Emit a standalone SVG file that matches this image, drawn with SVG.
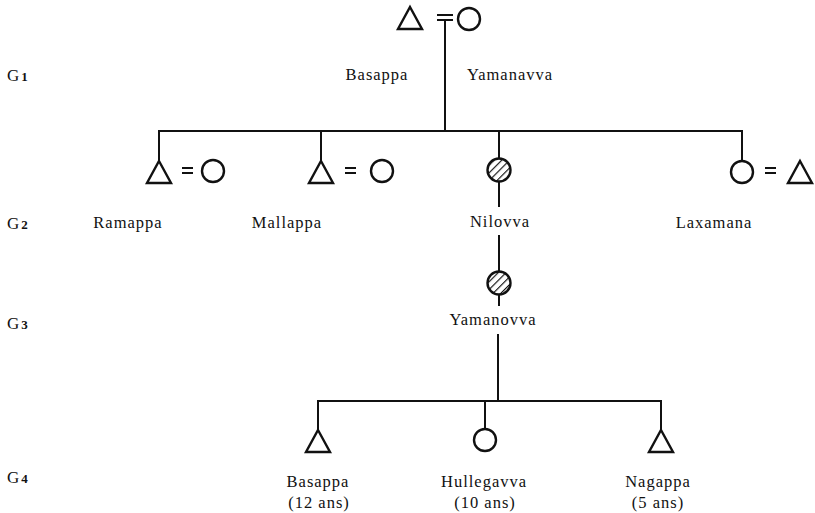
<svg xmlns="http://www.w3.org/2000/svg" width="815" height="513" viewBox="0 0 815 513">
  <style>
    .ln { stroke: #111; stroke-width: 2; fill: none; stroke-linecap: square; }
    .sym { stroke: #111; stroke-width: 2.4; fill: #fff; stroke-linejoin: miter; }
    .eq { stroke: #111; stroke-width: 2; }
    .lbl { font-family: "Liberation Serif", "DejaVu Serif", serif; font-size: 16.5px; letter-spacing: 1px; fill: #111; text-anchor: middle; }
    .gen { font-family: "Liberation Serif", "DejaVu Serif", serif; font-size: 17px; fill: #111; }
    .gen tspan { font-size: 13px; font-weight: bold; }
  </style>
  <defs>
    <pattern id="hatch" patternUnits="userSpaceOnUse" width="5.5" height="5.5" patternTransform="rotate(45)">
      <rect width="5.5" height="5.5" fill="#fff"/>
      <line x1="0" y1="0" x2="0" y2="5.5" stroke="#111" stroke-width="2.3"/>
    </pattern>
    <path id="tri" d="M0,-11 L12,11 L-12,11 Z"/>
  </defs>

  <!-- generation labels -->
  <g id="generations">
    <text class="gen" x="7" y="81">G<tspan dx="2">1</tspan></text>
    <text class="gen" x="7" y="229">G<tspan dx="2">2</tspan></text>
    <text class="gen" x="7" y="329">G<tspan dx="2">3</tspan></text>
    <text class="gen" x="7" y="483">G<tspan dx="2">4</tspan></text>
  </g>

  <!-- connectors -->
  <g id="connectors">
    <line class="ln" x1="445" y1="20" x2="445" y2="131"/>
    <line class="ln" x1="159" y1="131" x2="742" y2="131"/>
    <line class="ln" x1="159" y1="131" x2="159" y2="160"/>
    <line class="ln" x1="321" y1="131" x2="321" y2="160"/>
    <line class="ln" x1="499" y1="131" x2="499" y2="158"/>
    <line class="ln" x1="742" y1="131" x2="742" y2="161"/>
    <line class="ln" x1="499" y1="182" x2="499" y2="206"/>
    <line class="ln" x1="499" y1="236" x2="499" y2="271"/>
    <line class="ln" x1="499" y1="295" x2="499" y2="305"/>
    <line class="ln" x1="498" y1="335" x2="498" y2="401"/>
    <line class="ln" x1="318" y1="401" x2="661" y2="401"/>
    <line class="ln" x1="318" y1="401" x2="318" y2="430"/>
    <line class="ln" x1="485" y1="401" x2="485" y2="429"/>
    <line class="ln" x1="661" y1="401" x2="661" y2="429"/>
  </g>

  <!-- G1 couple -->
  <g id="basappa-g1">
    <use href="#tri" class="sym" x="410" y="18"/>
    <text class="lbl" x="377" y="80">Basappa</text>
  </g>
  <g id="marriage-g1">
    <line class="eq" x1="437" y1="15" x2="453" y2="15"/>
    <line class="eq" x1="437" y1="20" x2="453" y2="20"/>
  </g>
  <g id="yamanavva">
    <circle class="sym" cx="469" cy="19" r="11"/>
    <text class="lbl" x="510" y="80">Yamanavva</text>
  </g>

  <!-- G2 -->
  <g id="ramappa">
    <use href="#tri" class="sym" x="159" y="172"/>
    <line class="eq" x1="182" y1="168" x2="193" y2="168"/>
    <line class="eq" x1="182" y1="173" x2="193" y2="173"/>
    <circle class="sym" cx="213" cy="171" r="11"/>
    <text class="lbl" x="128" y="228">Ramappa</text>
  </g>
  <g id="mallappa">
    <use href="#tri" class="sym" x="321" y="172"/>
    <line class="eq" x1="345" y1="168" x2="356" y2="168"/>
    <line class="eq" x1="345" y1="173" x2="356" y2="173"/>
    <circle class="sym" cx="382" cy="171" r="11"/>
    <text class="lbl" x="287" y="228">Mallappa</text>
  </g>
  <g id="nilovva">
    <circle cx="499" cy="170" r="11.5" fill="url(#hatch)" stroke="#111" stroke-width="2.4"/>
    <text class="lbl" x="500" y="227">Nilovva</text>
  </g>
  <g id="laxamana">
    <circle class="sym" cx="742" cy="172" r="11"/>
    <line class="eq" x1="765" y1="168" x2="776" y2="168"/>
    <line class="eq" x1="765" y1="173" x2="776" y2="173"/>
    <use href="#tri" class="sym" x="800" y="172"/>
    <text class="lbl" x="714" y="228">Laxamana</text>
  </g>

  <!-- G3 -->
  <g id="yamanovva">
    <circle cx="499" cy="283" r="11.5" fill="url(#hatch)" stroke="#111" stroke-width="2.4"/>
    <text class="lbl" x="493" y="325">Yamanovva</text>
  </g>

  <!-- G4 -->
  <g id="basappa-g4">
    <use href="#tri" class="sym" x="318" y="441"/>
    <text class="lbl" x="318" y="487">Basappa</text>
    <text class="lbl" x="319" y="508">(12 ans)</text>
  </g>
  <g id="hullegavva">
    <circle class="sym" cx="485" cy="440" r="11"/>
    <text class="lbl" x="484" y="487">Hullegavva</text>
    <text class="lbl" x="485" y="508">(10 ans)</text>
  </g>
  <g id="nagappa">
    <use href="#tri" class="sym" x="661" y="441"/>
    <text class="lbl" x="658" y="487">Nagappa</text>
    <text class="lbl" x="658" y="508">(5 ans)</text>
  </g>
</svg>
